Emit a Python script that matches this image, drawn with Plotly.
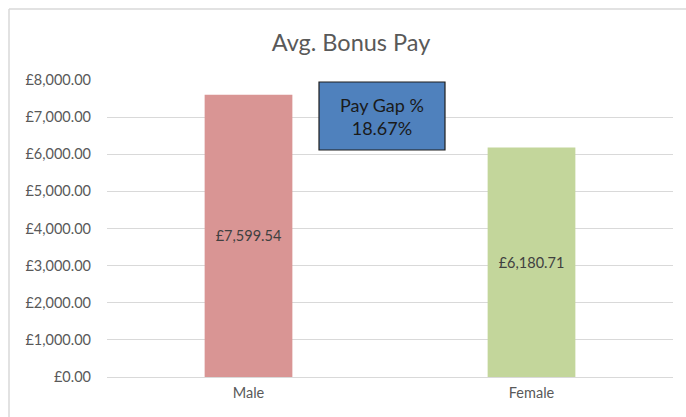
import plotly.graph_objects as go

categories = ["Male", "Female"]
values = [7599.54, 6180.71]
bar_colors = ["#D99594", "#C3D69B"]
value_labels = ["£7,599.54", "£6,180.71"]
tick_vals = [0, 1000, 2000, 3000, 4000, 5000, 6000, 7000, 8000]
tick_text = ["£0.00", "£1,000.00", "£2,000.00", "£3,000.00", "£4,000.00",
             "£5,000.00", "£6,000.00", "£7,000.00", "£8,000.00"]
title_text = "Avg. Bonus Pay"
gap_text = "Pay Gap %<br>18.67%"

FONT = "Lato, 'Open Sans', sans-serif"
W, H = 686, 417
L, R, T, B = 107, 13, 80, 40
pw, ph = W - L - R, H - T - B

fig = go.Figure()
fig.add_trace(go.Bar(
    x=categories, y=values,
    marker=dict(color=bar_colors, line=dict(width=0)),
    text=value_labels, textposition="inside", insidetextanchor="middle",
    textfont=dict(family=FONT, size=14.5, color="#404040"),
    width=0.31, hoverinfo="skip",
))

def px_x(x):
    return (x - L) / pw

def px_y(y):
    return (H - B - y) / ph

fig.update_layout(
    width=W, height=H,
    margin=dict(l=L, r=R, t=T, b=B),
    paper_bgcolor="white", plot_bgcolor="white",
    showlegend=False,
    title=dict(text=title_text, x=351 / W, xanchor="center",
               y=1 - 43 / H, yanchor="middle",
               font=dict(family=FONT, size=23.5, color="#595959")),
    xaxis=dict(showgrid=False, showline=False, ticks="",
               tickfont=dict(family=FONT, size=14.5, color="#595959"),
               ticklabelstandoff=5),
    yaxis=dict(range=[0, 8000], tickvals=tick_vals, ticktext=tick_text,
               showgrid=True, gridcolor="#D9D9D9", gridwidth=1,
               zeroline=True, zerolinecolor="#D9D9D9", zerolinewidth=1,
               showline=False, ticks="",
               tickfont=dict(family=FONT, size=14.5, color="#595959"),
               ticklabelstandoff=15),
    font=dict(family=FONT),
)

# chart outer border (left & top)
fig.add_shape(type="line", xref="paper", yref="paper",
              x0=px_x(9), x1=px_x(9), y0=px_y(H + 5), y1=px_y(9),
              line=dict(color="#D9D9D9", width=1.5))
fig.add_shape(type="line", xref="paper", yref="paper",
              x0=px_x(9), x1=px_x(W + 5), y0=px_y(9), y1=px_y(9),
              line=dict(color="#D9D9D9", width=1.5))

# Pay gap box
fig.add_shape(type="rect", xref="paper", yref="paper",
              x0=px_x(319), x1=px_x(445), y0=px_y(150), y1=px_y(82),
              fillcolor="#4F81BD", line=dict(color="#1F1F1F", width=1.2))
fig.add_annotation(xref="paper", yref="paper",
                   x=px_x(382), y=px_y(116), text=gap_text, showarrow=False,
                   font=dict(family=FONT, size=18, color="#1A1A1A"),
                   align="center", xanchor="center", yanchor="middle")

fig.write_html("out.html")
